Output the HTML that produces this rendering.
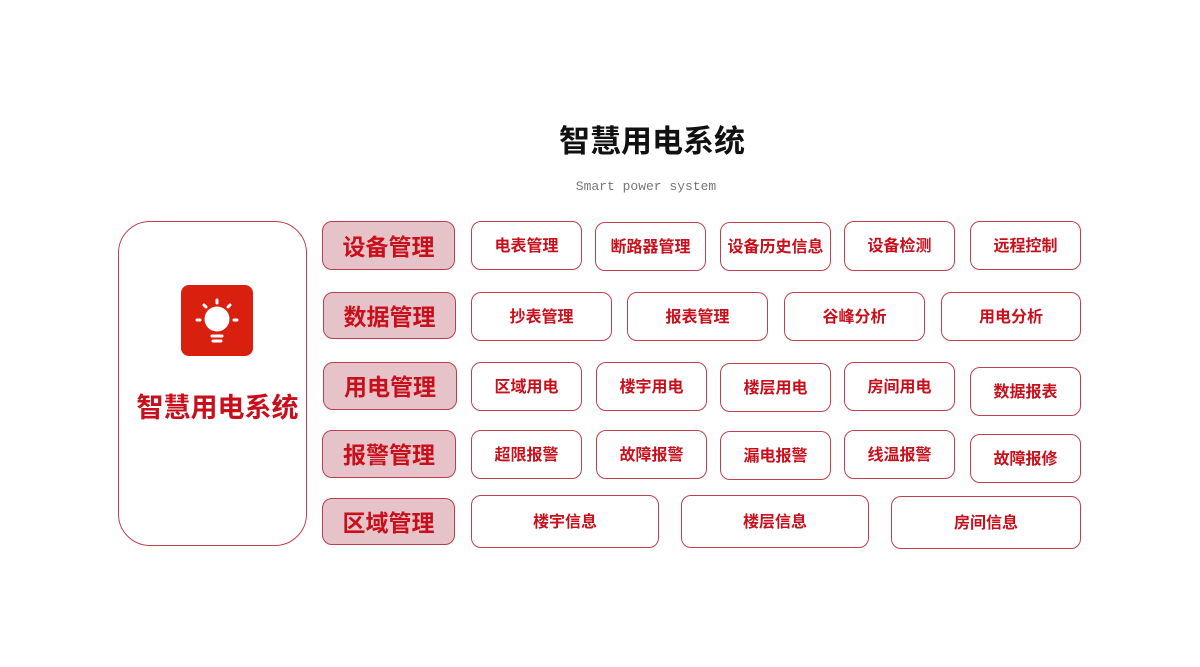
<!DOCTYPE html>
<html><head><meta charset="utf-8"><style>
body{margin:0;width:1200px;height:667px;background:#fff;position:relative;overflow:hidden;font-family:"Liberation Sans","Noto Sans CJK SC",sans-serif}
.b{position:absolute;box-sizing:border-box;border:1.5px solid #c0404c;border-radius:10px;display:flex;align-items:center;justify-content:center;color:#c8101c;font-weight:bold;font-size:16px;background:#fff;padding-bottom:4px}
.c{background:#e6c3c8;font-size:23px;border-color:#b8404c;padding-bottom:2px}
</style></head><body>
<div style="position:absolute;left:0;width:1200px;top:116px;text-align:center;font-size:31px;font-weight:bold;color:#111;padding-left:104px;box-sizing:border-box">智慧用电系统</div>
<div style="position:absolute;left:0;width:1200px;top:179px;text-align:center;font-family:'Liberation Mono',monospace;font-size:13px;color:#777;padding-left:92px;box-sizing:border-box">Smart power system</div>
<div class="b" style="left:118px;top:221px;width:189px;height:325px;border-radius:32px;display:block"></div>
<div style="position:absolute;left:181px;top:285px;width:72px;height:71px;background:#d91f0e;border-radius:8px">
<svg width="72" height="71" viewBox="0 0 72 71"><circle cx="36" cy="34" r="12.5" fill="#fff"/><g stroke="#fff" stroke-width="3" stroke-linecap="round"><line x1="36" y1="15" x2="36" y2="18"/><line x1="23" y1="20" x2="25" y2="22"/><line x1="49" y1="20" x2="47" y2="22"/><line x1="16" y1="35" x2="19" y2="35"/><line x1="53" y1="35" x2="56" y2="35"/><line x1="31" y1="51" x2="41" y2="51"/><line x1="32" y1="56" x2="40" y2="56"/></g></svg></div>
<div style="position:absolute;left:118px;width:199px;top:386px;text-align:center;font-size:27px;font-weight:bold;color:#c8101c">智慧用电系统</div>
<div class="b c" style="left:322px;top:221px;width:133px;height:49px">设备管理</div>
<div class="b c" style="left:323px;top:292px;width:133px;height:47px">数据管理</div>
<div class="b c" style="left:323px;top:362px;width:134px;height:48px">用电管理</div>
<div class="b c" style="left:322px;top:430px;width:134px;height:48px">报警管理</div>
<div class="b c" style="left:322px;top:498px;width:133px;height:47px">区域管理</div>
<div class="b" style="left:471px;top:221px;width:111px;height:49px">电表管理</div>
<div class="b" style="left:595px;top:222px;width:111px;height:49px">断路器管理</div>
<div class="b" style="left:720px;top:222px;width:111px;height:49px">设备历史信息</div>
<div class="b" style="left:844px;top:221px;width:111px;height:50px">设备检测</div>
<div class="b" style="left:970px;top:221px;width:111px;height:49px">远程控制</div>
<div class="b" style="left:471px;top:292px;width:141px;height:49px">抄表管理</div>
<div class="b" style="left:627px;top:292px;width:141px;height:49px">报表管理</div>
<div class="b" style="left:784px;top:292px;width:141px;height:49px">谷峰分析</div>
<div class="b" style="left:941px;top:292px;width:140px;height:49px">用电分析</div>
<div class="b" style="left:471px;top:362px;width:111px;height:49px">区域用电</div>
<div class="b" style="left:596px;top:362px;width:111px;height:49px">楼宇用电</div>
<div class="b" style="left:720px;top:363px;width:111px;height:49px">楼层用电</div>
<div class="b" style="left:844px;top:362px;width:111px;height:49px">房间用电</div>
<div class="b" style="left:970px;top:367px;width:111px;height:49px">数据报表</div>
<div class="b" style="left:471px;top:430px;width:111px;height:49px">超限报警</div>
<div class="b" style="left:596px;top:430px;width:111px;height:49px">故障报警</div>
<div class="b" style="left:720px;top:431px;width:111px;height:49px">漏电报警</div>
<div class="b" style="left:844px;top:430px;width:111px;height:49px">线温报警</div>
<div class="b" style="left:970px;top:434px;width:111px;height:49px">故障报修</div>
<div class="b" style="left:471px;top:495px;width:188px;height:53px">楼宇信息</div>
<div class="b" style="left:681px;top:495px;width:188px;height:53px">楼层信息</div>
<div class="b" style="left:891px;top:496px;width:190px;height:53px">房间信息</div>
</body></html>
